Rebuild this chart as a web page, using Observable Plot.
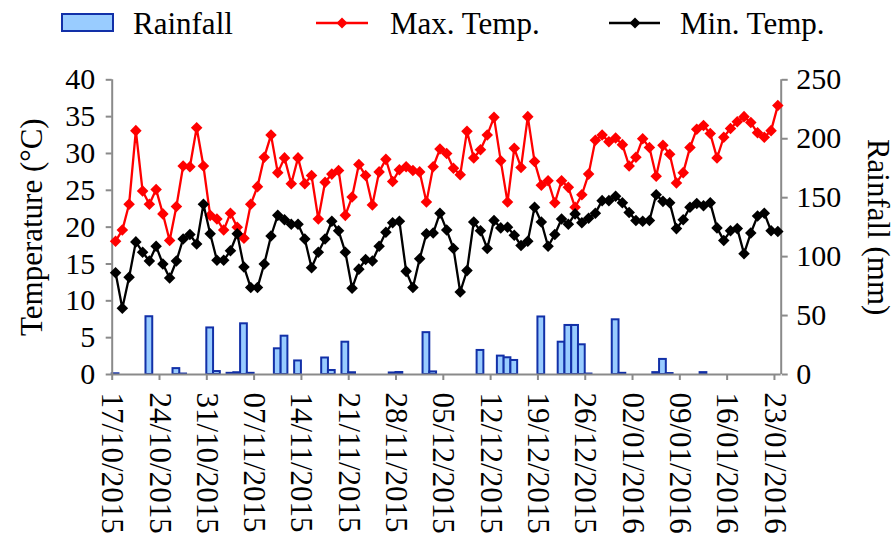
<!DOCTYPE html>
<html>
<head>
<meta charset="utf-8">
<script src="https://cdn.jsdelivr.net/npm/d3@7"></script>
<script src="https://cdn.jsdelivr.net/npm/@observablehq/plot@0.6"></script>
<style>
  body { margin: 0; background: #fff; font-family: "Liberation Serif", "Times New Roman", serif; }
  #legend { width: 896px; height: 50px; }
  #legend text { font-size: 31px; fill: #000; }
</style>
</head>
<body>
<div id="legend">
  <svg width="896" height="50">
    <rect x="62" y="14" width="51" height="17" fill="#99ccff" stroke="#1230a8" stroke-width="2"></rect>
    <text x="133" y="34">Rainfall</text>
    <line x1="316" x2="368" y1="23" y2="23" stroke="#ff0000" stroke-width="2.5"></line>
    <path d="M342,17.5L347.5,23L342,28.5L336.5,23Z" fill="#ff0000"></path>
    <text x="390" y="34">Max. Temp.</text>
    <line x1="609" x2="660" y1="23" y2="23" stroke="#000" stroke-width="2.5"></line>
    <path d="M635,17.5L640.5,23L635,28.5L629.5,23Z" fill="#000"></path>
    <text x="680" y="34">Min. Temp.</text>
  </svg>
</div>
<div id="chart"></div>
<script>
// Daily weather, 17/10/2015 (day 0) to 23/01/2016 (day 98)
const tickLabels = [
  "17/10/2015", "24/10/2015", "31/10/2015", "07/11/2015", "14/11/2015",
  "21/11/2015", "28/11/2015", "05/12/2015", "12/12/2015", "19/12/2015",
  "26/12/2015", "02/01/2016", "09/01/2016", "16/01/2016", "23/01/2016"
];

// Maximum temperature (°C), one value per day
const maxTemp = [
  18.1, 19.6, 23.1, 33.1, 24.9, 23.1, 25.1, 21.8, 18.2, 22.8,
  28.3, 28.2, 33.5, 28.3, 21.6, 21.1, 19.6, 21.9, 20.0, 18.5,
  23.1, 25.5, 29.5, 32.5, 27.4, 29.4, 25.9, 29.4, 25.9, 27.0,
  21.1, 26.1, 27.2, 27.7, 21.6, 24.1, 28.5, 27.0, 23.0, 27.5,
  29.2, 26.2, 27.8, 28.2, 27.7, 27.5, 23.4, 28.2, 30.6, 30.0,
  28.0, 27.1, 33.0, 29.4, 30.5, 32.5, 34.9, 29.0, 23.4, 30.7,
  28.1, 35.0, 28.9, 25.7, 26.3, 23.3, 26.3, 25.4, 22.7, 24.4,
  27.2, 31.8, 32.5, 31.6, 32.1, 31.2, 28.3, 29.5, 32.0, 30.8,
  26.9, 31.1, 29.9, 26.0, 27.4, 30.8, 33.3, 33.8, 32.7, 29.4,
  32.2, 33.4, 34.3, 35.0, 34.2, 32.8, 32.2, 33.1, 36.5
];

// Minimum temperature (°C), one value per day
const minTemp = [
  13.8, 9.0, 13.2, 18.0, 16.6, 15.4, 17.4, 15.0, 13.1, 15.4,
  18.4, 19.0, 17.7, 23.1, 19.1, 15.5, 15.5, 16.8, 19.1, 14.6,
  11.8, 11.8, 15.0, 18.8, 21.6, 21.0, 20.4, 20.4, 18.4, 14.5,
  16.6, 18.4, 20.8, 19.5, 16.6, 11.7, 14.3, 15.6, 15.4, 17.4,
  19.3, 20.6, 20.8, 14.0, 11.8, 15.7, 19.1, 19.2, 21.9, 19.6,
  17.1, 11.2, 14.1, 20.7, 19.5, 17.1, 20.9, 19.9, 20.0, 18.9,
  17.5, 18.1, 22.7, 20.7, 17.4, 19.0, 21.1, 20.4, 21.8, 20.6,
  21.2, 21.9, 23.6, 23.6, 24.2, 23.3, 22.0, 20.9, 20.8, 20.9,
  24.4, 23.5, 23.3, 19.8, 21.0, 22.7, 23.2, 22.9, 23.3, 19.9,
  18.2, 19.5, 19.8, 16.4, 19.2, 21.5, 21.9, 19.5, 19.4
];

// Rainy days (day index) and their rainfall (mm)
const rainDays = [0, 5, 9, 10, 14, 15, 17, 18, 19, 20, 24, 25, 27, 31, 32, 34, 35, 41, 42, 46, 47,
                  54, 57, 58, 59, 63, 66, 67, 68, 69, 70, 74, 75, 80, 81, 82, 87];
const rainMm =   [0.6, 49, 5, 0.4, 39.5, 2.5, 1, 1.5, 43, 1, 21.8, 32.5, 11.5, 14, 3.4, 27.4, 1.5, 1.3, 1.7, 35.5, 2.2,
                  20.4, 15.6, 14.2, 11.9, 48.8, 27.4, 41.6, 41.6, 25.2, 0.4, 46.4, 1, 1.6, 12.8, 0.8, 1.6];

const tempTicks = [0, 5, 10, 15, 20, 25, 30, 35, 40];
const rainTicks = [0, 50, 100, 150, 200, 250];

// Rainfall shares the temperature scale: 250 mm sits at 40 °C
const rainToTemp = 40 / 250;

const days = d3.range(maxTemp.length).map(i => ({day: i, max: maxTemp[i], min: minTemp[i]}));
const rain = rainDays.map((d, i) => ({day: d, mm: rainMm[i]}));

const axisGray = "#8a8a8a";
const font = "'Liberation Serif', 'Times New Roman', serif";

const chart = Plot.plot({
  width: 896,
  height: 493,
  marginTop: 29.3,
  marginBottom: 169,
  marginLeft: 111.7,
  marginRight: 115.3,
  style: {fontFamily: font, fontSize: "30px", color: "#000", background: "#fff", overflow: "visible"},
  x: {domain: [-0.5, maxTemp.length - 0.5], axis: null},
  y: {domain: [0, 40], axis: null},
  marks: [
    Plot.rect(rain, {
      x1: d => d.day - 0.5, x2: d => d.day + 0.5,
      y1: 0, y2: d => d.mm * rainToTemp,
      fill: "#99ccff", stroke: "#1230a8", strokeWidth: 2
    }),
    Plot.ruleX([-0.5, maxTemp.length - 0.5], {stroke: axisGray, strokeWidth: 2}),
    Plot.ruleY([0], {stroke: axisGray, strokeWidth: 2}),
    Plot.line(days, {x: "day", y: "max", stroke: "#ff0000", strokeWidth: 2.3}),
    Plot.dot(days, {x: "day", y: "max", symbol: "diamond2", r: 5.2, fill: "#ff0000"}),
    Plot.line(days, {x: "day", y: "min", stroke: "#000", strokeWidth: 2.3}),
    Plot.dot(days, {x: "day", y: "min", symbol: "diamond2", r: 5.2, fill: "#000"}),
    Plot.axisY({
      anchor: "left", ticks: tempTicks, tickSize: 6, tickPadding: 11,
      stroke: axisGray, strokeWidth: 2, fill: "#000", fontSize: 30, label: null
    }),
    Plot.axisY({
      anchor: "right", ticks: rainTicks.map(v => v * rainToTemp),
      tickFormat: v => String(Math.round(v / rainToTemp)),
      tickSize: 6, tickPadding: 9,
      stroke: axisGray, strokeWidth: 2, fill: "#000", fontSize: 30, label: null
    }),
    Plot.axisX({
      anchor: "bottom", ticks: tickLabels.map((_, i) => i * 7 - 0.5),
      tickFormat: v => tickLabels[Math.round((v + 0.5) / 7)],
      tickRotate: 90, tickSize: 6, tickPadding: 12,
      stroke: axisGray, strokeWidth: 2, fill: "#000", fontSize: 31, label: null
    }),
    Plot.text(["Temperature (°C)"], {frameAnchor: "left", dx: -80, rotate: -90, textAnchor: "middle", fontSize: 31}),
    Plot.text(["Rainfall (mm)"], {frameAnchor: "right", dx: 97, rotate: 90, textAnchor: "middle", fontSize: 31})
  ]
});

document.getElementById("chart").appendChild(chart);
</script>
</body>
</html>
